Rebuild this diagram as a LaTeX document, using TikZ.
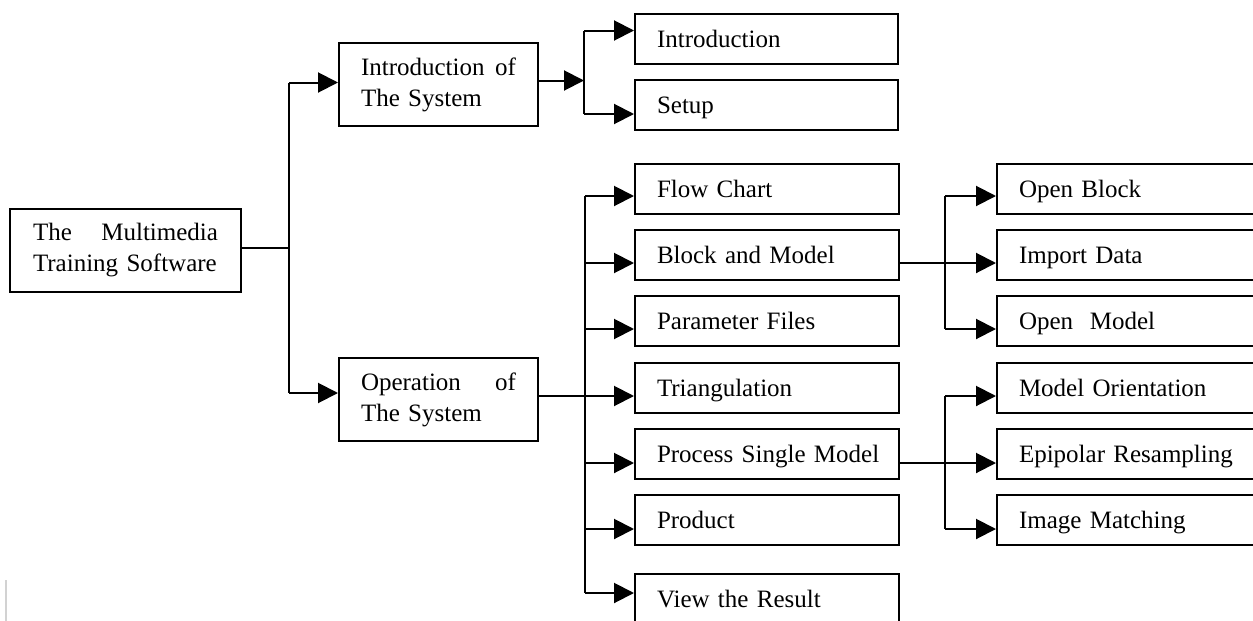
\documentclass[tikz,border=0pt]{standalone}
\usepackage{fontspec}
\setmainfont{Liberation Serif}
\usetikzlibrary{arrows.meta}
\begin{document}
\begin{tikzpicture}[x=1pt,y=-1pt,
  box/.style={draw, line width=2pt, rectangle, anchor=north west, inner xsep=22pt, inner ysep=0pt,
    align=left, font=\fontsize{25}{31}\selectfont},
  onebox/.style={box, minimum height=50pt, text height=18pt, text depth=1pt, text width=#1},
  twobox/.style={box, minimum height=83pt, text width=#1},
  conn/.style={line width=2pt},
  arr/.style={line width=2pt, -{Triangle[length=20pt,width=20pt]}}]
\clip (0,0) rectangle (1253,621);
\fill[white] (0,0) rectangle (1253,621);
% nodes
\node[twobox=185pt, inner xsep=23pt] (root) at (9,208) {The\hfill Multimedia\\Training Software};
\node[twobox=155pt] (intro) at (338,42) {Introduction\hfill of\\The System};
\node[twobox=155pt] (op) at (338,357) {Operation\hfill of\\The System};
\node[onebox=219pt] (introd) at (634,13) {\mbox{Introduction}};
\node[onebox=219pt] (setup) at (634,79) {\mbox{Setup}};
\node[onebox=220pt] (fc) at (634,163) {\mbox{Flow Chart}};
\node[onebox=220pt] (bm) at (634,229) {\mbox{Block and Model}};
\node[onebox=220pt] (pf) at (634,295) {\mbox{Parameter Files}};
\node[onebox=220pt] (tri) at (634,362) {\mbox{Triangulation}};
\node[onebox=220pt] (psm) at (634,428) {\mbox{Process Single Model}};
\node[onebox=220pt] (prod) at (634,494) {\mbox{Product}};
\node[onebox=220pt] (vr) at (634,573) {\mbox{View the Result}};
\node[onebox=256pt] (ob) at (996,163) {\mbox{Open Block}};
\node[onebox=256pt] (imp) at (996,229) {\mbox{Import Data}};
\node[onebox=256pt] (om) at (996,295) {\mbox{Open\ \ Model}};
\node[onebox=256pt] (mo) at (996,362) {\mbox{Model Orientation}};
\node[onebox=256pt] (er) at (996,428) {\mbox{Epipolar Resampling}};
\node[onebox=256pt] (im) at (996,494) {\mbox{Image Matching}};
% junction columns
\coordinate (v1) at (289,0);
\coordinate (v2) at (584,0);
\coordinate (v3) at (585,0);
\coordinate (v4) at (945,0);
% level 1
\coordinate (rootout) at ([yshift=2.5pt]root.east);
\coordinate (introin) at ([yshift=2pt]intro.west);
\coordinate (opin) at ([yshift=6.5pt]op.west);
\draw[conn] (rootout) -- (v1 |- rootout);
\draw[conn] (v1 |- introin) -- (v1 |- opin);
\draw[arr] (v1 |- introin) -- (introin);
\draw[arr] (v1 |- opin) -- (opin);
% introduction branch
\coordinate (introout) at ([yshift=4pt]intro.east);
\coordinate (introdin) at ([yshift=8.5pt]introd.west);
\coordinate (setupin) at ([yshift=-9pt]setup.west);
\draw[arr] (introout) -- (v2 |- introout);
\draw[conn] (v2 |- introdin) -- (v2 |- setupin);
\draw[arr] (v2 |- introdin) -- (introdin);
\draw[arr] (v2 |- setupin) -- (setupin);
% operation branch
\coordinate (fcin) at ([yshift=-7pt]fc.west);
\coordinate (bmin) at ([yshift=-8pt]bm.west);
\coordinate (pfin) at ([yshift=-8pt]pf.west);
\coordinate (triin) at ([yshift=-8pt]tri.west);
\coordinate (psmin) at ([yshift=-9pt]psm.west);
\coordinate (prodin) at ([yshift=-9pt]prod.west);
\coordinate (vrin) at ([yshift=6pt]vr.west);
\draw[conn] (v3 |- fcin) -- (v3 |- vrin);
\draw[arr] (op.east |- triin) -- (triin);
\draw[arr] (v3 |- fcin) -- (fcin);
\draw[arr] (v3 |- bmin) -- (bmin);
\draw[arr] (v3 |- pfin) -- (pfin);
\draw[arr] (v3 |- psmin) -- (psmin);
\draw[arr] (v3 |- prodin) -- (prodin);
\draw[arr] (v3 |- vrin) -- (vrin);
% block and model branch
\coordinate (obin) at ([yshift=-7pt]ob.west);
\coordinate (impin) at ([yshift=-8pt]imp.west);
\coordinate (omin) at ([yshift=-8pt]om.west);
\draw[conn] (v4 |- obin) -- (v4 |- omin);
\draw[arr] (bm.east |- impin) -- (impin);
\draw[arr] (v4 |- obin) -- (obin);
\draw[arr] (v4 |- omin) -- (omin);
% process single model branch
\coordinate (moin) at ([yshift=-8pt]mo.west);
\coordinate (erin) at ([yshift=-9pt]er.west);
\coordinate (imin) at ([yshift=-9pt]im.west);
\draw[conn] (v4 |- moin) -- (v4 |- imin);
\draw[arr] (psm.east |- erin) -- (erin);
\draw[arr] (v4 |- moin) -- (moin);
\draw[arr] (v4 |- imin) -- (imin);
% stray mark at bottom left
\draw[line width=2pt, gray!35] (6,580) -- (6,621);
\end{tikzpicture}
\end{document}
